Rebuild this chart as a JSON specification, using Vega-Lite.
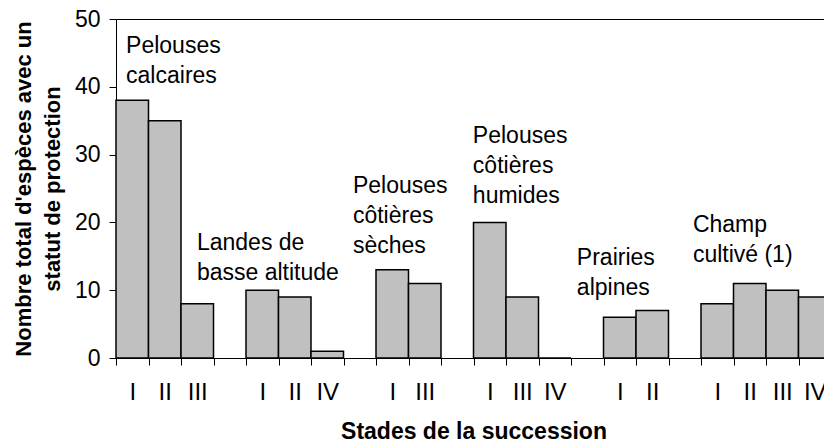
{
  "$schema": "https://vega.github.io/schema/vega-lite/v6.json",
  "width": 715,
  "height": 339,
  "autosize": {"type": "none"},
  "padding": {"left": 116, "top": 19, "right": 0, "bottom": 87},
  "config": {
    "font": "Liberation Sans",
    "view": {"stroke": "black", "strokeWidth": 1},
    "axis": {"domainColor": "black", "tickColor": "black", "labelColor": "black", "titleColor": "black", "grid": false, "domainWidth": 1, "tickWidth": 1}
  },
  "layer": [
    {
      "data": {"values": [
        {"group": 1, "habitat": "Pelouses calcaires", "stage": "I", "value": 38},
        {"group": 1, "habitat": "Pelouses calcaires", "stage": "II", "value": 35},
        {"group": 1, "habitat": "Pelouses calcaires", "stage": "III", "value": 8},
        {"group": 2, "habitat": "Landes de basse altitude", "stage": "I", "value": 10},
        {"group": 2, "habitat": "Landes de basse altitude", "stage": "II", "value": 9},
        {"group": 2, "habitat": "Landes de basse altitude", "stage": "IV", "value": 1},
        {"group": 3, "habitat": "Pelouses côtières sèches", "stage": "I", "value": 13},
        {"group": 3, "habitat": "Pelouses côtières sèches", "stage": "III", "value": 11},
        {"group": 4, "habitat": "Pelouses côtières humides", "stage": "I", "value": 20},
        {"group": 4, "habitat": "Pelouses côtières humides", "stage": "III", "value": 9},
        {"group": 4, "habitat": "Pelouses côtières humides", "stage": "IV", "value": 0},
        {"group": 5, "habitat": "Prairies alpines", "stage": "I", "value": 6},
        {"group": 5, "habitat": "Prairies alpines", "stage": "II", "value": 7},
        {"group": 6, "habitat": "Champ cultivé (1)", "stage": "I", "value": 8},
        {"group": 6, "habitat": "Champ cultivé (1)", "stage": "II", "value": 11},
        {"group": 6, "habitat": "Champ cultivé (1)", "stage": "III", "value": 10},
        {"group": 6, "habitat": "Champ cultivé (1)", "stage": "IV", "value": 9}
      ]},
      "transform": [{"calculate": "datum.group + '|' + datum.stage", "as": "slot"}],
      "mark": {"type": "bar", "fill": "#c0c0c0", "stroke": "black", "strokeWidth": 1.5},
      "encoding": {
        "x": {
          "field": "slot",
          "type": "nominal",
          "sort": null,
          "scale": {
            "domain": ["1|I", "1|II", "1|III", "g1", "2|I", "2|II", "2|IV", "g2", "3|I", "3|III", "g3", "4|I", "4|III", "4|IV", "g4", "5|I", "5|II", "g5", "6|I", "6|II", "6|III", "6|IV"],
            "paddingInner": 0,
            "paddingOuter": 0
          },
          "axis": {
            "title": "Stades de la succession",
            "tickBand": "extent",
            "labelExpr": "indexof(datum.label, '|') >= 0 ? split(datum.label, '|')[1] : ''",
            "labelAngle": 0,
            "tickSize": 7,
            "labelFontSize": 24,
            "labelPadding": 15,
            "labelFlush": false,
            "labelOverlap": false,
            "titleFontSize": 23,
            "titleFontWeight": "bold",
            "titlePadding": 16
          }
        },
        "y": {
          "field": "value",
          "type": "quantitative",
          "scale": {"domain": [0, 50], "nice": false},
          "axis": {
            "values": [0, 10, 20, 30, 40, 50],
            "tickSize": 7,
            "labelFontSize": 23,
            "labelPadding": 9,
            "title": ["Nombre total d'espèces avec un", "statut de protection"],
            "titleFontSize": 22,
            "titleFontWeight": "bold",
            "titleLineHeight": 29,
            "titlePadding": 10
          }
        }
      }
    },
    {
      "data": {"values": [
        {"label": ["Pelouses", "calcaires"], "x": 0.31, "value": 45.0},
        {"label": ["Landes de", "basse altitude"], "x": 2.49, "value": 15.9},
        {"label": ["Pelouses", "côtières", "sèches"], "x": 7.29, "value": 24.3},
        {"label": ["Pelouses", "côtières", "humides"], "x": 10.98, "value": 31.7},
        {"label": ["Prairies", "alpines"], "x": 14.18, "value": 13.7},
        {"label": ["Champ", "cultivé (1)"], "x": 17.75, "value": 18.6}
      ]},
      "mark": {"type": "text", "align": "left", "baseline": "alphabetic", "fontSize": 23, "lineHeight": 30, "color": "black"},
      "encoding": {
        "x": {"field": "x", "type": "quantitative", "scale": {"domain": [0, 22], "nice": false, "zero": false}, "axis": null},
        "y": {"field": "value", "type": "quantitative"},
        "text": {"field": "label"}
      }
    }
  ],
  "resolve": {"scale": {"x": "independent"}}
}
